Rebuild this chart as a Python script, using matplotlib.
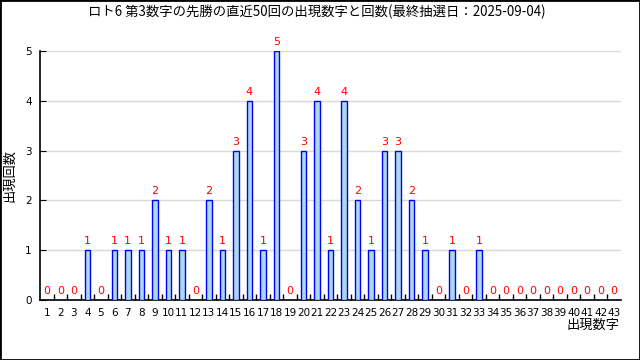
import matplotlib
matplotlib.use('Agg')
import matplotlib.pyplot as plt
from matplotlib.patches import Rectangle

plt.rcParams['font.family'] = ['DejaVu Sans', 'Noto Sans CJK JP']

# data
numbers = list(range(1, 44))
counts = [0, 0, 0, 1, 0, 1, 1, 1, 2, 1,
          1, 0, 2, 1, 3, 4, 1, 5, 0, 3,
          4, 1, 4, 2, 1, 3, 3, 2, 1, 0,
          1, 0, 1, 0, 0, 0, 0, 0, 0, 0,
          0, 0, 0]
title = 'ロト6 第3数字の先勝の直近50回の出現数字と回数(最終抽選日：2025-09-04)'

fig = plt.figure(figsize=(6.4, 3.6), dpi=100)
ax = fig.add_axes([40 / 640, 60 / 360, 581 / 640, 249 / 360])

ax.bar(numbers, counts, width=0.4, color='lightblue', edgecolor='blue', linewidth=1, zorder=3)

for n, c in zip(numbers, counts):
    ax.text(n, c + 0.08, str(c), color='red', ha='center', va='bottom', fontsize=8, clip_on=False)

ax.set_xlim(0.5, 43.5)
ax.set_ylim(0, 5)
ax.set_yticks(range(0, 6))
ax.set_xticks(numbers)
ax.set_xticklabels([str(n) for n in numbers], fontsize=7.5)
ax.set_xticks([n + 0.5 for n in numbers[:-1]], minor=True)
ax.tick_params(axis='x', which='major', length=0, pad=6)
ax.tick_params(axis='x', which='minor', length=4, direction='in', width=1)
ax.tick_params(axis='y', direction='in', length=4, labelsize=7.5, pad=6)
ax.yaxis.grid(True, color='#d9d9d9', linewidth=1, zorder=0)

ax.spines['top'].set_visible(False)
ax.spines['right'].set_visible(False)
for s in ['left', 'bottom']:
    ax.spines[s].set_linewidth(1.2)

fig.text(0.495, 1 - 12 / 360, title, ha='center', va='center', fontsize=9.6,
         family=['Noto Sans CJK JP', 'DejaVu Sans'])
fig.text(10 / 640, 1 - 176 / 360, '出現回数', rotation=90, ha='center', va='center',
         fontsize=9.5, family=['Noto Sans CJK JP', 'DejaVu Sans'])
fig.text(619 / 640, 1 - 325 / 360, '出現数字', ha='right', va='center',
         fontsize=9.5, family=['Noto Sans CJK JP', 'DejaVu Sans'])

fig.patches.append(Rectangle((0, 0), 1, 1, transform=fig.transFigure, fill=False,
                             edgecolor='black', linewidth=2))

fig.savefig('out.png', dpi=100)
